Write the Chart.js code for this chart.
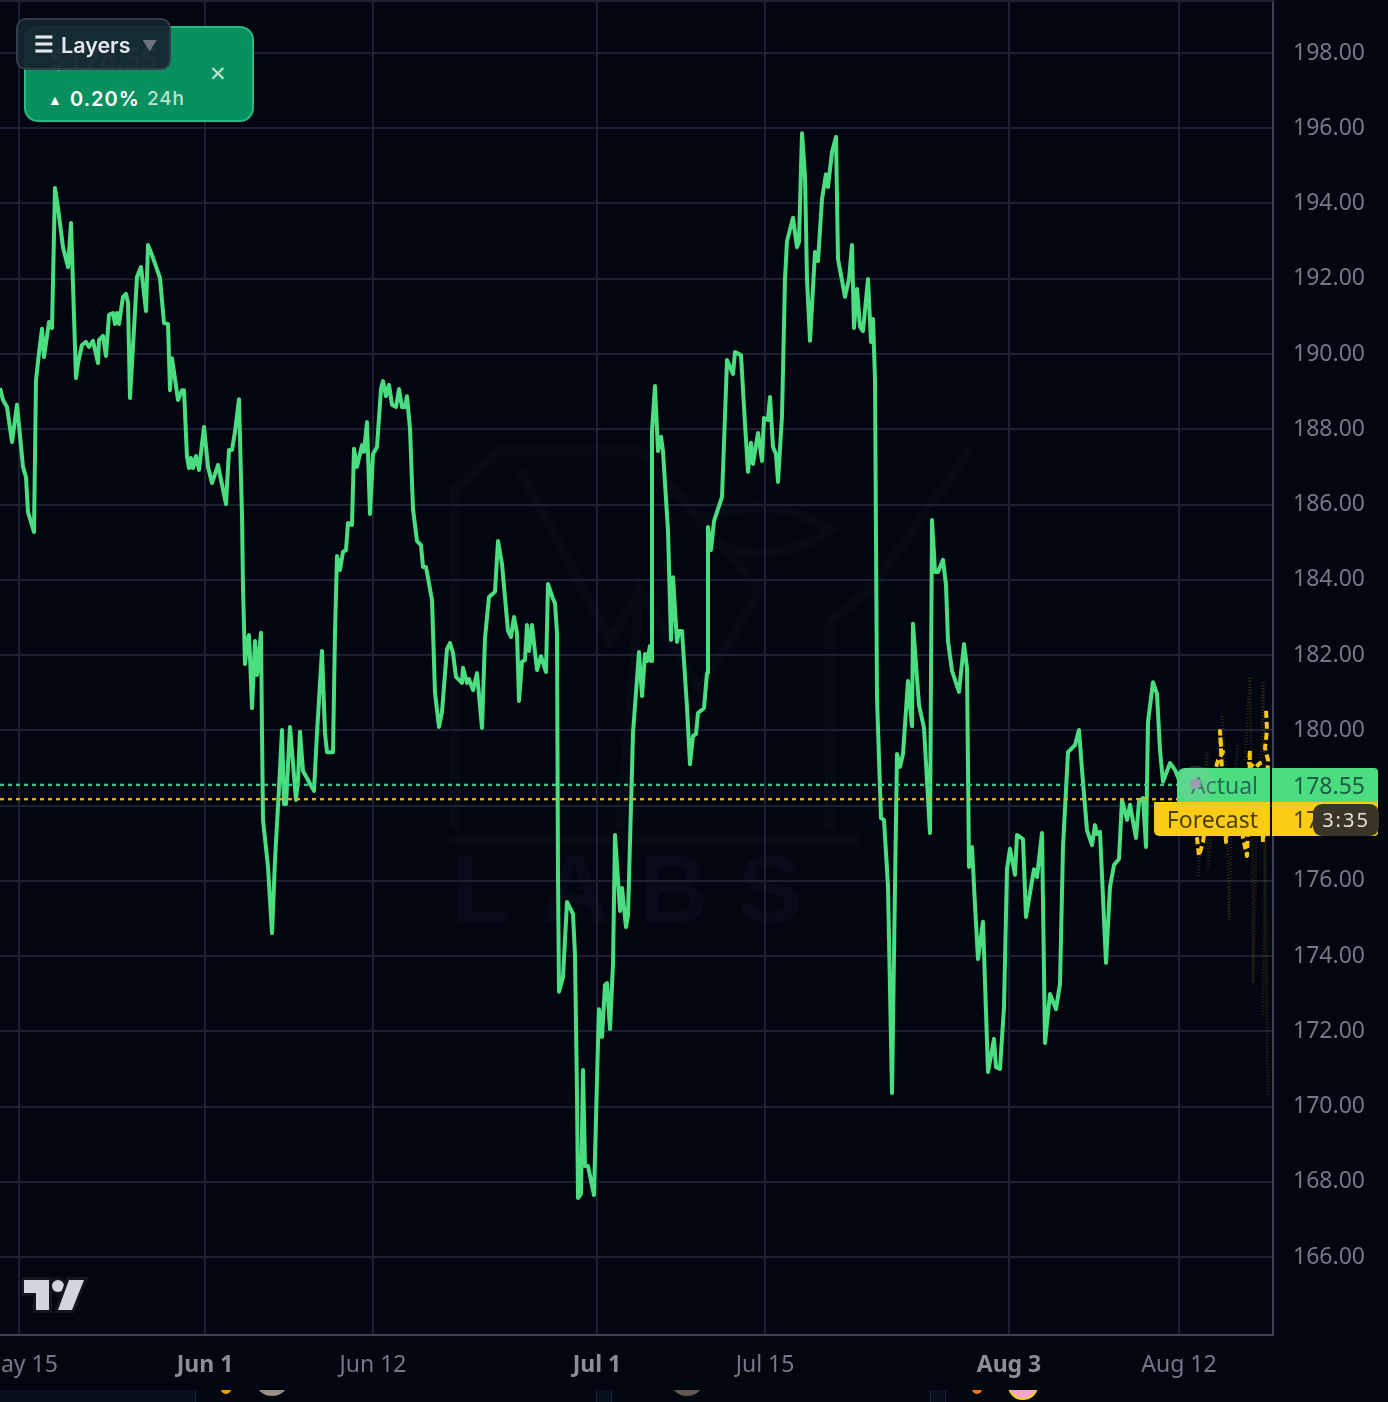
<!DOCTYPE html>
<html>
<head>
<meta charset="utf-8">
<title>Actual vs Forecast</title>
<script src="https://cdn.jsdelivr.net/npm/chart.js@4/dist/chart.umd.min.js"></script>
<style>
  html, body { margin: 0; padding: 0; background: #020611; width: 1388px; height: 1402px; overflow: hidden; }
  #wrap { position: relative; width: 1388px; height: 1402px; font-family: "Noto Sans", sans-serif; }
  #mark { position: absolute; left: 0; top: 0; }
  #chart { position: absolute; left: 0; top: 0; filter: blur(0.6px); }
  .box { position: absolute; white-space: nowrap; }
  .tag { font-size: 23px; line-height: 34px; height: 34px; text-align: right; box-sizing: border-box; }
  .topline { left: 0; top: 0; width: 1273px; height: 2px; background: #1b2130; }
  #card { left: 24px; top: 26px; width: 226px; height: 92px; background: #08905f; border: 2px solid #2cb884; border-radius: 14px; color: #fff; }
  #layers { left: 16px; top: 18px; width: 151px; height: 48px; background: rgba(21,36,48,0.94); border: 2px solid #343c4e; border-radius: 10px; color: #e4e7ec; font-family: Inter, sans-serif; font-weight: 600; font-size: 21.5px; line-height: 50px; }
  #foot { left: 0; top: 1390px; width: 1388px; height: 12px; background: #0a0f1d; overflow: hidden; }
  .panel { position: absolute; top: -10px; height: 40px; background: #030712; border: 1px solid #1b2538; border-radius: 14px; box-sizing: border-box; }
  .bit { position: absolute; border-radius: 50%; }
</style>
</head>
<body>
<div id="wrap">
  <svg id="mark" width="1273" height="1335">
    <g fill="none" stroke="#060a15" stroke-width="10">
      <path d="M455 830 L455 490 L500 450 L640 450 L760 590 L700 690 L640 590 L620 830"/>
      <path d="M520 470 L610 640 L640 590"/>
      <path d="M700 520 Q770 490 830 530 Q770 570 710 540"/>
      <path d="M830 830 L830 620 L870 590 L970 450"/>
      <path d="M450 840 L860 840"/>
    </g>
    <text x="452" y="922" font-family="Liberation Sans" font-weight="700" font-size="96" textLength="350" fill="#070b17">LABS</text>
  </svg>
  <canvas id="chart" width="1388" height="1390"></canvas>
  <div class="box topline"></div>

  <svg class="box" style="left:0;top:1270px" width="100" height="50">
    <g fill="#d3d5de" stroke="#12161f" stroke-width="6" paint-order="stroke" stroke-linejoin="miter">
      <path d="M24 10 H49 V40 H36 V23 H24 Z"/>
      <circle cx="58" cy="16" r="6"/>
      <path d="M69 10 H84 L72 40 H58 Z"/>
    </g>
  </svg>

  <div class="box" id="card">
    <div class="box" style="left:24px;top:10px;font-size:29px;font-weight:700;opacity:0.6">$178.55</div>
    <div class="box" style="left:183px;top:29px;font-size:21px;color:#b9e3d2;line-height:32px">&#10005;</div>
    <div class="box" style="left:22px;top:59px;font-size:14px;line-height:26px">&#9650;</div>
    <div class="box" style="left:44px;top:56px;font-family:Inter,sans-serif;font-size:20px;font-weight:600;letter-spacing:1px;line-height:30px">0.20%</div>
    <div class="box" style="left:121px;top:56px;font-family:Inter,sans-serif;font-size:19px;font-weight:500;letter-spacing:0.8px;color:#b9e3d2;line-height:30px">24h</div>
  </div>
  <div class="box" id="layers">
    <span class="box" style="left:16px;top:-1px;font-size:22px;font-weight:700">&#9776;</span>
    <span class="box" style="left:43px;top:0">Layers</span>
    <span class="box" style="left:124px;top:1px;color:#6d7280;font-size:15px">&#9660;</span>
  </div>

  <div class="box tag" style="left:1177px;top:768px;width:93px;background:#4ade80;border-radius:8px 0 0 0;color:#256b52;padding-right:12px">Actual</div>
  <div class="box" style="left:1178px;top:766px;width:36px;height:36px;border-radius:50%;background:rgba(170,190,190,0.22)"></div>
  <div class="box" style="left:1190px;top:778px;width:11px;height:11px;border-radius:50%;background:#9c9eb0"></div>
  <div class="box tag" style="left:1272px;top:768px;width:106px;background:#4ade80;border-radius:0 4px 0 0;color:#1f5b45;padding-right:13px">178.55</div>
  <div class="box tag" style="left:1154px;top:802px;width:116px;background:#facc15;border-radius:0 0 0 5px;color:#4d3f08;padding-right:12px">Forecast</div>
  <div class="box tag" style="left:1272px;top:802px;width:106px;background:#facc15;border-radius:0 0 4px 0;color:#4d3f08;padding-right:13px">178.17</div>
  <div class="box" style="left:1313px;top:804px;width:66px;height:32px;line-height:31px;text-align:center;background:#3a3527;border-radius:9px;color:#e2e0da;font-size:20px;letter-spacing:2px">3:35</div>

  <div class="box" id="foot">
    <div class="panel" style="left:195px;width:402px"></div>
    <div class="panel" style="left:611px;width:320px"></div>
    <div class="panel" style="left:945px;width:460px"></div>
    <div class="bit" style="left:221px;top:-6px;width:10px;height:10px;background:#f59e0b"></div>
    <div class="bit" style="left:257px;top:-18px;width:30px;height:24px;background:#9a8f85"></div>
    <div class="bit" style="left:672px;top:-18px;width:30px;height:24px;background:#5c5a50"></div>
    <div class="bit" style="left:972px;top:-6px;width:10px;height:10px;background:#f97316"></div>
    <div class="bit" style="left:1008px;top:-18px;width:26px;height:24px;background:#f4a6c8;border:2px solid #facc15"></div>
  </div>
</div>

<script>
// values (price, with x counted in bars, 1 bar = 2px on this zoom)
var bars = [0,1.5,3.5,6,8.5,11.5,13,14,17,18,19.5,21,22,24.5,26,27.5,29,31.5,34,35.5,38,39,41,43,44.5,46.5,49,49.5,51.5,53,54.5,56.5,57.5,58.5,59.5,61.5,63,64,65,68.5,70.5,73,74,76,80,82,84,85,86,89,91,92,93.5,94.5,95.5,96.5,98,99.5,102,104,106,109,113,114.5,116,117.5,119.5,
  121,121.5,122.5,123.5,124.5,125,126,127.5,128.5,130.5,131,131.5,134,136,137.5,140,141,142,143,145,148,149,150,151.5,154,157,158.5,161,162.5,163.5,166.5,167.5,168.5,170,171.5,173,174,176,177,178.5,181,182,183.5,185,186.5,188.5,190.5,191.5,193,194.5,196,198,199.5,201,202.5,203.5,205,206.5,208.5,210.5,211.5,213,216,217.5,219.5,221,223.5,225,226.5,228,231,231.5,233.5,234.5,236.5,238.5,241,242.5,244.5,247.5,249,251,254,255.5,257,258.5,259.5,261,262.5,263.5,264.5,266,268.5,270.5,273,274,276.5,277.5,278.5,279,279.5,281.5,283.5,286.5,287.5,288.5,289,290.5,291.5,292.5,294,
  297,299,299.5,301,302.5,303.5,305,306.5,307.5,310,311,313,314,316.5,319.5,321,322.5,323.5,325,325.5,326,327.5,329,330.5,331.5,334,335.5,336.5,338.5,339.5,341,343.5,345,346.5,348,349,352,353.5,354,355.5,357,361,362.5,363.5,366.5,367.5,370.5,372.5,374,375.5,376.5,379,381,382,384,385,386.5,388,389,391,392.5,393.5,396.5,398.5,399.5,401,402.5,403.5,405,407.5,409,411,413,414,416,418,419,422.5,424.5,426,427,428.5,430,431.5,434,435.5,436.5,437.5,438.5,440.5,442,444,446,447.5,448.5,450,451.5,454,455,456,456.5,459.5,462,465,466,467.5,469,471.5,473,474,476,479.5,482,483.5,484.5,486,487.5,489,491.5,494,497,498,500,502,
  503.5,505,507.5,508.5,511.5,513,517,518.5,521,522.5,525,528,530,531.5,534,537.5,539.5,541,543.5,546,547.5,548.5,550,553,555,557,559.5,561,563.5,565,568,569.5,571.5,573,574,576.5,578.5,580,581.5,585,587.5,590.5];
var prices = [189.10,188.78,188.59,187.66,188.65,187.00,186.73,185.80,185.27,189.31,190.03,190.67,189.92,190.85,190.69,194.41,193.88,192.84,192.31,193.48,189.36,189.76,190.24,190.32,190.19,190.35,189.76,190.37,190.48,189.95,191.04,191.09,190.80,191.09,190.80,191.52,191.60,191.36,188.83,192.05,192.31,191.14,192.90,192.63,192.02,190.82,190.80,189.04,189.89,188.78,189.04,189.04,187.26,186.97,187.24,186.97,187.29,186.92,188.06,187.00,186.57,187.05,186.01,187.45,187.45,187.93,188.80,
  185.70,183.78,181.76,182.32,182.53,181.95,180.59,182.37,181.47,182.59,179.93,177.62,176.37,174.61,176.55,178.95,180.01,178.04,178.04,180.09,178.15,178.68,179.96,178.92,178.68,178.39,179.93,182.11,179.93,179.42,179.42,182.61,184.63,184.26,184.74,184.79,185.51,185.46,187.48,187.00,187.58,187.40,188.19,185.75,187.34,187.53,189.07,189.28,188.88,189.18,188.65,188.59,189.07,188.59,188.59,188.88,188.01,185.88,185.03,184.92,184.34,184.34,183.46,180.99,180.09,180.49,182.16,182.32,182.05,181.42,181.26,181.66,181.26,181.36,181.07,181.52,180.06,182.45,183.54,183.68,185.03,184.42,182.64,182.48,183.01,182.59,180.78,181.82,181.87,182.80,182.11,182.80,181.60,181.97,181.55,183.89,183.49,183.38,182.59,176.10,173.05,173.44,175.44,175.12,174.03,170.33,167.57,167.68,170.97,168.42,168.42,
  167.65,171.72,172.59,171.85,173.23,173.28,172.06,173.79,177.22,175.20,175.81,174.77,175.09,179.93,182.08,180.91,182.03,181.84,182.24,181.84,187.95,189.15,187.42,187.80,187.42,185.30,182.40,184.07,182.35,182.64,182.64,180.62,179.10,179.85,179.90,180.46,180.59,181.52,185.40,184.79,185.56,186.20,188.35,189.84,189.47,190.05,189.97,188.14,186.87,187.64,187.08,187.90,187.16,188.30,188.25,188.86,187.53,187.34,186.60,188.35,191.99,193.00,193.62,192.84,192.98,195.87,194.73,191.99,190.35,192.71,192.47,194.12,194.78,194.44,195.37,195.77,192.53,191.52,191.99,192.90,190.69,191.73,190.72,190.61,191.99,190.32,190.93,189.34,180.86,177.67,177.62,175.86,170.36,175.86,179.37,179.03,179.37,181.31,180.67,180.11,182.83,180.67,180.06,177.27,185.59,184.21,184.21,184.53,183.86,182.37,181.58,181.02,182.29,181.66,176.37,176.90,175.36,173.92,174.91,170.92,171.80,171.05,171.00,172.65,
  176.31,176.85,176.16,177.22,177.11,175.04,176.31,176.10,177.27,171.69,172.99,172.59,173.26,176.90,179.42,179.61,180.01,178.95,177.35,176.95,177.48,177.24,177.30,173.82,175.84,176.42,176.58,178.15,177.62,178.02,177.14,178.10,178.20,176.90,180.22,181.28,180.97,179.48,178.63,179.13,178.95,178.55];

var forecastBars = [590.5,595,598.5,599.5,601.5,605,609,611.5,610.5,610,611,613,616,619,621.5,623.5,624.5,625,624.5,627.5,630,631.5,633,634,632.5,633.5,633];
var forecastPrices = [178.55,178.02,177.14,176.66,177.03,178.41,179.21,179.42,179.61,179.98,178.95,177.03,178.15,178.68,177.14,176.66,178.15,179.48,179.13,179.00,179.13,177.03,178.15,179.21,179.53,180.01,180.54];

// faint scenario paths behind the forecast
var scenarioBars = [[599,600,603.5,604,606],[611,613,614.5,616,619],[622.5,625,626,626.5,628.5],[630,631.5,633],[631.5,632.5,634]];
var scenarioPrices = [[176.13,177.35,179.48,176.29,177.35],[180.38,178.68,174.96,178.15,179.61],[179.21,181.42,178.15,173.28,178.15],[178.15,181.26,178.15],[172.43,177.09,170.26]];

var actualPrice = 178.55;
var forecastPrice = 178.17;
var lastBar = 590.5;

var priceTicks = [166,168,170,172,174,176,178,180,182,184,186,188,190,192,194,196,198];
var timeTicks = [9.5,102.5,186.5,298.5,382.5,504.5,589.5];
var timeLabels = ['May 15','Jun 1','Jun 12','Jul 1','Jul 15','Aug 3','Aug 12'];
var boldLabels = ['Jun 1','Jul 1','Aug 3'];

function toPoints(xs, ys) {
  return xs.map(function(x, i) { return {x: x, y: ys[i]}; });
}

var datasets = [];
scenarioBars.forEach(function(xs, i) {
  datasets.push({data: toPoints(xs, scenarioPrices[i]), borderColor: 'rgba(150,120,25,0.28)', borderWidth: 3, borderDash: [1, 2]});
});
datasets.push({data: toPoints([0, lastBar], [actualPrice, actualPrice]), borderColor: '#38c98a', borderWidth: 2.4, borderDash: [4, 4]});
datasets.push({data: toPoints([0, lastBar], [forecastPrice, forecastPrice]), borderColor: '#e6ae10', borderWidth: 2.4, borderDash: [4, 4]});
datasets.push({data: toPoints(forecastBars, forecastPrices), borderColor: '#fbc918', borderWidth: 4, borderDash: [7, 4], borderJoinStyle: 'round'});
datasets.push({data: toPoints(bars, prices), borderColor: '#4ade80', borderWidth: 4, borderJoinStyle: 'round'});

var ctx = document.getElementById('chart');
var priceChart = new Chart(ctx, {
  type: 'line',
  data: { datasets: datasets },
  options: {
    responsive: false,
    animation: false,
    parsing: false,
    normalized: false,
    layout: { padding: 0 },
    elements: { point: { radius: 0 }, line: { tension: 0 } },
    plugins: { legend: { display: false }, tooltip: { enabled: false } },
    scales: {
      x: {
        type: 'linear',
        min: 0,
        max: 636.5,
        afterBuildTicks: function(scale) {
          scale.ticks = timeTicks.map(function(v) { return {value: v}; });
        },
        afterFit: function(scale) {
          scale.height = 55;
          scale.paddingLeft = 0;
          scale.paddingRight = 0;
        },
        border: { color: '#3a4254', width: 2 },
        grid: { color: '#1b2130', lineWidth: 2, drawTicks: false },
        ticks: {
          autoSkip: false,
          maxRotation: 0,
          padding: 17,
          callback: function(value, index) { return timeLabels[index]; },
          color: function(c) { return boldLabels.indexOf(timeLabels[c.index]) >= 0 ? '#8a8e99' : '#747985'; },
          font: function(c) {
            return {family: '"Noto Sans"', size: 23, weight: boldLabels.indexOf(timeLabels[c.index]) >= 0 ? '700' : '400'};
          }
        }
      },
      y: {
        position: 'right',
        min: 163.93,
        max: 199.408,
        afterBuildTicks: function(scale) {
          scale.ticks = priceTicks.map(function(v) { return {value: v}; });
        },
        afterFit: function(scale) {
          scale.width = 115;
          scale.paddingTop = 0;
          scale.paddingBottom = 0;
        },
        border: { color: '#3a4254', width: 2 },
        grid: { color: '#1b2130', lineWidth: 2, drawTicks: false },
        ticks: {
          autoSkip: false,
          padding: 20,
          color: '#747985',
          font: { family: '"Noto Sans"', size: 23 },
          callback: function(value) { return value.toFixed(2); }
        }
      }
    }
  }
});
</script>
</body>
</html>
